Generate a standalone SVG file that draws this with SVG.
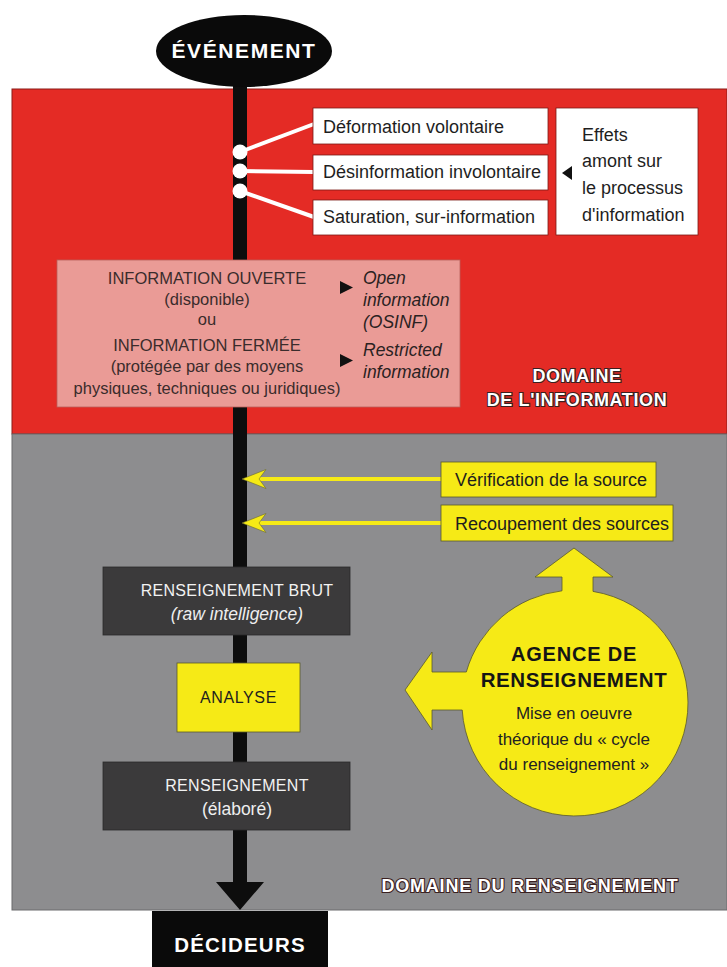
<svg xmlns="http://www.w3.org/2000/svg" width="727" height="967" viewBox="0 0 727 967">
  <defs>
    <style>
      .sans { font-family: "Liberation Sans", "DejaVu Sans", sans-serif; }
      .hd { font-family: "Liberation Sans", "DejaVu Sans", sans-serif; font-weight: bold; }
      .wbox { fill: #ffffff; stroke: #7a1a16; stroke-width: 0.8; }
      .ybox { fill: #f6ea16; stroke: #5a5a2a; stroke-width: 0.8; }
      .dbox { fill: #3b3a3b; stroke: #2a2a2a; stroke-width: 0.8; }
      .t18 { font-size: 18px; fill: #1e1e1e; }
      .pink { font-size: 16.5px; fill: #3a2c2c; }
      .pinki { font-size: 17.5px; fill: #2a2222; font-style: italic; }
      .outl { fill: #ffffff; stroke: #3a2020; stroke-width: 2.2; paint-order: stroke; }
      .wire { stroke: #ffffff; stroke-width: 4; fill: none; }
      .yline { stroke: #f6ea16; stroke-width: 4; fill: none; }
      .yhead { fill: #f6ea16; stroke: #6a6a30; stroke-width: 0.6; }
    </style>
  </defs>

  <!-- page -->
  <rect width="727" height="967" fill="#ffffff"/>

  <!-- domain backgrounds -->
  <rect id="domaine-information" x="12" y="89" width="715" height="345" fill="#e42b25" stroke="#8a1c18" stroke-width="1"/>
  <rect id="domaine-renseignement" x="12" y="434" width="715" height="476" fill="#8d8d8f" stroke="#6a6a6c" stroke-width="1"/>

  <!-- main flow line with arrowhead -->
  <g id="connectors">
    <rect x="233" y="70" width="14" height="814" fill="#0d0d0d"/>
    <path d="M216,882 L233,882 L233,880 L247,880 L247,882 L264,882 L240,910 Z" fill="#0d0d0d"/>
    <!-- upstream effect links -->
    <line class="wire" x1="240" y1="152" x2="314" y2="124"/>
    <line class="wire" x1="240" y1="171" x2="314" y2="172"/>
    <line class="wire" x1="240" y1="191" x2="314" y2="217"/>
    <circle cx="240" cy="152" r="7.5" fill="#ffffff"/>
    <circle cx="240" cy="171" r="7.5" fill="#ffffff"/>
    <circle cx="240" cy="191" r="7.5" fill="#ffffff"/>
    <!-- source checks -->
    <line class="yline" x1="441" y1="479" x2="258" y2="479"/>
    <path class="yhead" d="M242,479 L266,469.5 L259,479 L266,488.5 Z"/>
    <line class="yline" x1="441" y1="523" x2="258" y2="523"/>
    <path class="yhead" d="M242,523 L266,513.5 L259,523 L266,532.5 Z"/>
  </g>

  <g id="evenement">
    <ellipse cx="244" cy="51" rx="88" ry="36" fill="#0a0a0a"/>
    <text class="hd" x="244" y="58" text-anchor="middle" font-size="21" letter-spacing="1.6" fill="#ffffff">ÉVÉNEMENT</text>
  </g>

  <g id="deformation">
    <rect class="wbox" x="313" y="108" width="235" height="36"/>
    <text class="sans t18" x="323" y="133">Déformation volontaire</text>
  </g>
  <g id="desinformation">
    <rect class="wbox" x="313" y="155" width="235" height="35"/>
    <text class="sans t18" x="323" y="178">Désinformation involontaire</text>
  </g>
  <g id="saturation">
    <rect class="wbox" x="313" y="200" width="235" height="35"/>
    <text class="sans t18" x="323" y="223">Saturation, sur-information</text>
  </g>
  <g id="effets-amont">
    <rect class="wbox" x="556" y="108" width="142" height="127"/>
    <path d="M572,166 L572,180 L562,173 Z" fill="#111111"/>
    <text class="sans t18" x="582" y="141">Effets</text>
    <text class="sans t18" x="582" y="167">amont sur</text>
    <text class="sans t18" x="582" y="194">le processus</text>
    <text class="sans t18" x="582" y="221">d'information</text>
  </g>

  <g id="information-ouverte-fermee">
    <rect x="57" y="260" width="403" height="147" fill="#ea9b96" stroke="#b8605a" stroke-width="0.8"/>
    <text class="sans pink" x="207" y="284" text-anchor="middle">INFORMATION OUVERTE</text>
    <text class="sans pink" x="207" y="305" text-anchor="middle">(disponible)</text>
    <text class="sans pink" x="207" y="325" text-anchor="middle">ou</text>
    <text class="sans pink" x="207" y="351" text-anchor="middle">INFORMATION FERMÉE</text>
    <text class="sans pink" x="207" y="372" text-anchor="middle">(protégée par des moyens</text>
    <text class="sans pink" x="207" y="394" text-anchor="middle">physiques, techniques ou juridiques)</text>
    <path d="M340,281 L340,294 L353,287.5 Z" fill="#111111"/>
    <path d="M340,354 L340,367 L353,360.5 Z" fill="#111111"/>
    <text class="sans pinki" x="363" y="284">Open</text>
    <text class="sans pinki" x="363" y="306">information</text>
    <text class="sans pinki" x="363" y="328">(OSINF)</text>
    <text class="sans pinki" x="363" y="356">Restricted</text>
    <text class="sans pinki" x="363" y="378">information</text>
  </g>

  <g id="label-information">
    <text class="hd outl" x="577" y="382" text-anchor="middle" font-size="18" letter-spacing="0.6">DOMAINE</text>
    <text class="hd outl" x="577" y="406" text-anchor="middle" font-size="18" letter-spacing="0.6">DE L'INFORMATION</text>
  </g>

  <g id="verification">
    <rect class="ybox" x="441" y="462" width="215" height="35"/>
    <text class="sans t18" x="455" y="486">Vérification de la source</text>
  </g>
  <g id="recoupement">
    <rect class="ybox" x="441" y="505" width="232" height="36"/>
    <text class="sans t18" x="455" y="530">Recoupement des sources</text>
  </g>

  <g id="agence">
    <path d="M574,548 L613,577 L593,577 L593,591.4 A113,113 0 1 1 462.2,710 L432,710 L432,730 L405,690 L432,652 L432,672 L466.3,672 A113,113 0 0 1 562,590.8 L562,577 L535,577 Z" fill="#f6ea16" stroke="#5a5a2a" stroke-width="0.8"/>
    <text class="hd" x="574" y="661" text-anchor="middle" font-size="20" letter-spacing="0.8" fill="#151515">AGENCE DE</text>
    <text class="hd" x="574" y="687" text-anchor="middle" font-size="20.5" letter-spacing="0.6" fill="#151515">RENSEIGNEMENT</text>
    <text class="sans" x="574" y="719" text-anchor="middle" font-size="17" fill="#222222">Mise en oeuvre</text>
    <text class="sans" x="574" y="745" text-anchor="middle" font-size="17" fill="#222222">théorique du « cycle</text>
    <text class="sans" x="574" y="770" text-anchor="middle" font-size="17" fill="#222222">du renseignement »</text>
  </g>

  <g id="renseignement-brut">
    <rect class="dbox" x="103" y="567" width="247" height="68"/>
    <text class="sans" x="237" y="596" text-anchor="middle" font-size="16" fill="#f2f2f2" letter-spacing="0.3">RENSEIGNEMENT BRUT</text>
    <text class="sans" x="237" y="620" text-anchor="middle" font-size="17.5" font-style="italic" fill="#eeeeee">(raw intelligence)</text>
  </g>

  <g id="analyse">
    <rect class="ybox" x="177" y="663" width="123" height="69"/>
    <text class="sans" x="238.5" y="703" text-anchor="middle" font-size="16" fill="#1e1e1e" letter-spacing="0.6">ANALYSE</text>
  </g>

  <g id="renseignement-elabore">
    <rect class="dbox" x="103" y="762" width="247" height="68"/>
    <text class="sans" x="237" y="791" text-anchor="middle" font-size="16" fill="#f2f2f2" letter-spacing="0.3">RENSEIGNEMENT</text>
    <text class="sans" x="237" y="815" text-anchor="middle" font-size="17.5" fill="#eeeeee">(élaboré)</text>
  </g>

  <g id="label-renseignement">
    <text class="hd outl" x="530" y="892" text-anchor="middle" font-size="18" letter-spacing="0.8">DOMAINE DU RENSEIGNEMENT</text>
  </g>

  <g id="decideurs">
    <rect x="152" y="911" width="176" height="56" fill="#0a0a0a"/>
    <text class="hd" x="240" y="952" text-anchor="middle" font-size="20.5" letter-spacing="1.2" fill="#ffffff">DÉCIDEURS</text>
  </g>
</svg>
